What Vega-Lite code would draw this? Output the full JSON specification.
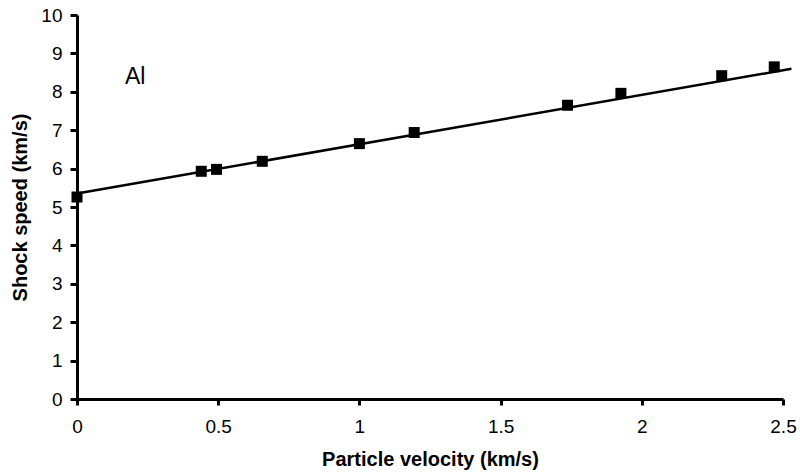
{
  "$schema": "https://vega.github.io/schema/vega-lite/v6.json",
  "width": 706,
  "height": 384,
  "autosize": "none",
  "padding": {"left": 77, "top": 15, "right": 17, "bottom": 75},
  "background": "white",
  "config": {
    "view": {"stroke": null}
  },
  "datasets": {
    "points": [
      {"u": 0.0, "s": 5.26},
      {"u": 0.44, "s": 5.93},
      {"u": 0.494, "s": 5.98},
      {"u": 0.656, "s": 6.19},
      {"u": 1.0, "s": 6.65},
      {"u": 1.194, "s": 6.94},
      {"u": 1.737, "s": 7.65},
      {"u": 1.926, "s": 7.96},
      {"u": 2.283, "s": 8.42},
      {"u": 2.469, "s": 8.65}
    ],
    "fit": [
      {"u": 0.0, "s": 5.35},
      {"u": 2.53, "s": 8.6}
    ],
    "label": [
      {"u": 0.206, "s": 8.39, "t": "Al"}
    ]
  },
  "encoding": {
    "x": {"field": "u", "type": "quantitative", "scale": {"domain": [0, 2.5], "nice": false, "zero": false},
      "axis": {"values": [0, 0.5, 1, 1.5, 2, 2.5], "format": "~g", "title": "Particle velocity (km/s)",
        "grid": false, "domainColor": "black", "domainWidth": 3, "tickColor": "black", "tickWidth": 3, "tickSize": 6,
        "labelFont": "Liberation Sans", "labelFontSize": 19, "labelColor": "black", "labelPadding": 12, "labelFlush": false,
        "titleFont": "Liberation Sans", "titleFontSize": 20, "titleFontWeight": "bold", "titleColor": "black", "titlePadding": 13}},
    "y": {"field": "s", "type": "quantitative", "scale": {"domain": [0, 10], "nice": false},
      "axis": {"values": [0, 1, 2, 3, 4, 5, 6, 7, 8, 9, 10], "format": "d", "title": "Shock speed (km/s)",
        "grid": false, "domainColor": "black", "domainWidth": 3, "tickColor": "black", "tickWidth": 3, "tickSize": 7,
        "labelFont": "Liberation Sans", "labelFontSize": 19, "labelColor": "black", "labelPadding": 8, "labelFlush": false,
        "titleFont": "Liberation Sans", "titleFontSize": 20, "titleFontWeight": "bold", "titleColor": "black", "titlePadding": 10}}
  },
  "layer": [
    {
      "data": {"name": "fit"},
      "mark": {"type": "line", "color": "black", "strokeWidth": 2.5, "clip": false}
    },
    {
      "data": {"name": "points"},
      "mark": {"type": "point", "shape": "square", "filled": true, "color": "black", "opacity": 1, "size": 121, "clip": false}
    },
    {
      "data": {"name": "label"},
      "mark": {"type": "text", "fontSize": 23, "font": "Liberation Sans", "color": "black", "align": "center", "baseline": "middle"},
      "encoding": {
        "text": {"field": "t"}
      }
    }
  ]
}
